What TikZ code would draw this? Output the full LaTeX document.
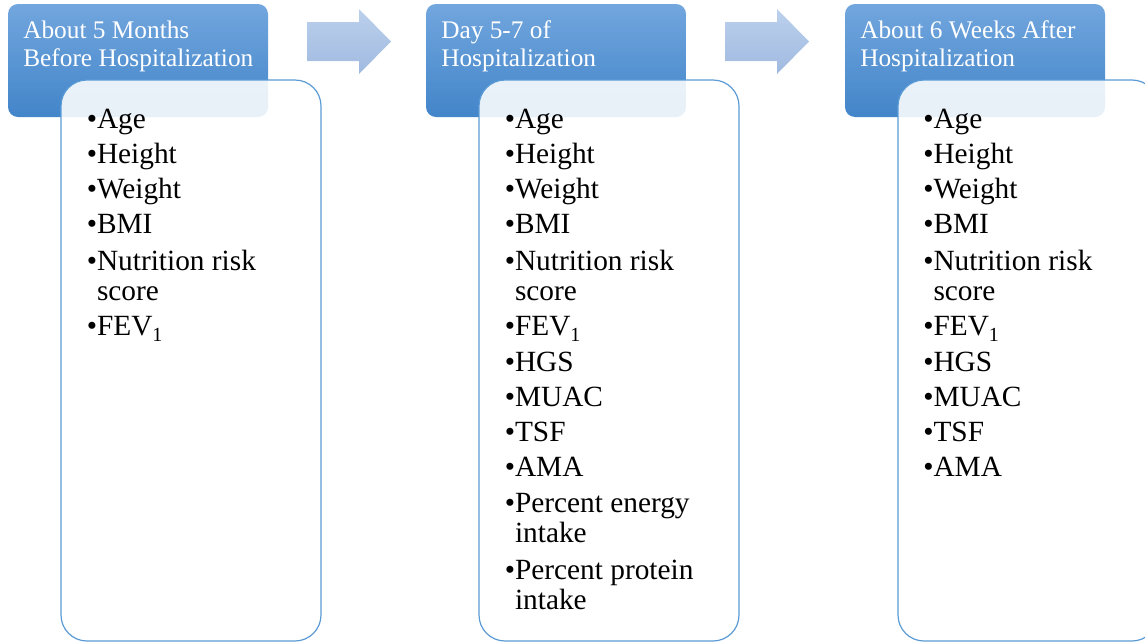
\documentclass[tikz,border=0pt]{standalone}
\usepackage{fontspec}
\setmainfont{Liberation Serif}
\definecolor{htop}{RGB}{114,166,222}
\definecolor{hbot}{RGB}{66,133,201}
\definecolor{cborder}{RGB}{91,155,213}
\definecolor{atop}{RGB}{187,208,236}
\definecolor{abot}{RGB}{160,186,224}
\newcommand\bul{•}
\newcommand\ind{\phantom{•}}
\newcommand\subone{\raisebox{-5pt}{\fontsize{15}{15}\selectfont 1}}
\tikzset{
 hdr/.style={rounded corners=7.5pt, top color=htop, bottom color=hbot, draw=none, minimum width=195pt, minimum height=84.75pt, anchor=north west, inner sep=0pt, outer sep=0pt},
 cbox/.style={rounded corners=19.5pt, draw=cborder, line width=0.9pt, fill=white, fill opacity=0.88, minimum width=195pt, minimum height=420.75pt, anchor=north west, inner sep=0pt, outer sep=0pt},
 htxt/.style={font=\fontsize{19}{21}\selectfont, text=white, anchor=base west, inner sep=0pt},
 itxt/.style={font=\fontsize{22}{22.5}\selectfont, anchor=base west, inner sep=0pt},
 blk/.style={top color=atop, bottom color=abot, draw=none}
}
\begin{document}
\begin{tikzpicture}[x=0.75pt,y=-0.75pt]
\useasboundingbox (0,0) rectangle (1145,643);
\clip (0,0) rectangle (1145,643);
% column offsets
\foreach \c/\dx in {1/0,2/418,3/837}{
  \node[hdr] (h\c) at (8+\dx,4) {};
  \node[cbox] (c\c) at (61+\dx,80) {};
}
% header texts
\node[htxt] (t1a) at (23,38) {About 5 Months};
\node[htxt] (t1b) at (23,66) {Before Hospitalization};
\node[htxt] (t2a) at (441,38) {Day 5-7 of};
\node[htxt] (t2b) at (441,66) {Hospitalization};
\node[htxt] (t3a) at (860,38) {About 6 Weeks After};
\node[htxt] (t3b) at (860,66) {Hospitalization};
% block arrows
\coordinate (a1) at (307,41.5);
\coordinate (a2) at (725,41.5);
\foreach \a in {a1,a2}{
  \shade[blk] ([shift={(0,-19.5)}]\a) -- ++(52,0) -- ++(0,-13) -- ++(32,32.5) -- ++(-32,32.5) -- ++(0,-13) -- ++(-52,0) -- cycle;
}
% items column 1
\foreach [count=\k] \tx/\yy in {{\bul Age}/128,{\bul Height}/163,{\bul Weight}/198,{\bul BMI}/233,{\bul Nutrition risk}/270,{\ind score}/300,{\bul FEV\subone}/335}{
  \node[itxt] (i1-\k) at (86.5,\yy) {\tx};
}
% items column 2
\foreach [count=\k] \tx/\yy in {{\bul Age}/128,{\bul Height}/163,{\bul Weight}/198,{\bul BMI}/233,{\bul Nutrition risk}/270,{\ind score}/300,{\bul FEV\subone}/335,{\bul HGS}/371,{\bul MUAC}/406,{\bul TSF}/441,{\bul AMA}/476,{\bul Percent energy}/512,{\ind intake}/542,{\bul Percent protein}/579,{\ind intake}/609}{
  \node[itxt] (i2-\k) at (504.5,\yy) {\tx};
}
% items column 3
\foreach [count=\k] \tx/\yy in {{\bul Age}/128,{\bul Height}/163,{\bul Weight}/198,{\bul BMI}/233,{\bul Nutrition risk}/270,{\ind score}/300,{\bul FEV\subone}/335,{\bul HGS}/371,{\bul MUAC}/406,{\bul TSF}/441,{\bul AMA}/476}{
  \node[itxt] (i3-\k) at (923,\yy) {\tx};
}
\end{tikzpicture}
\end{document}
